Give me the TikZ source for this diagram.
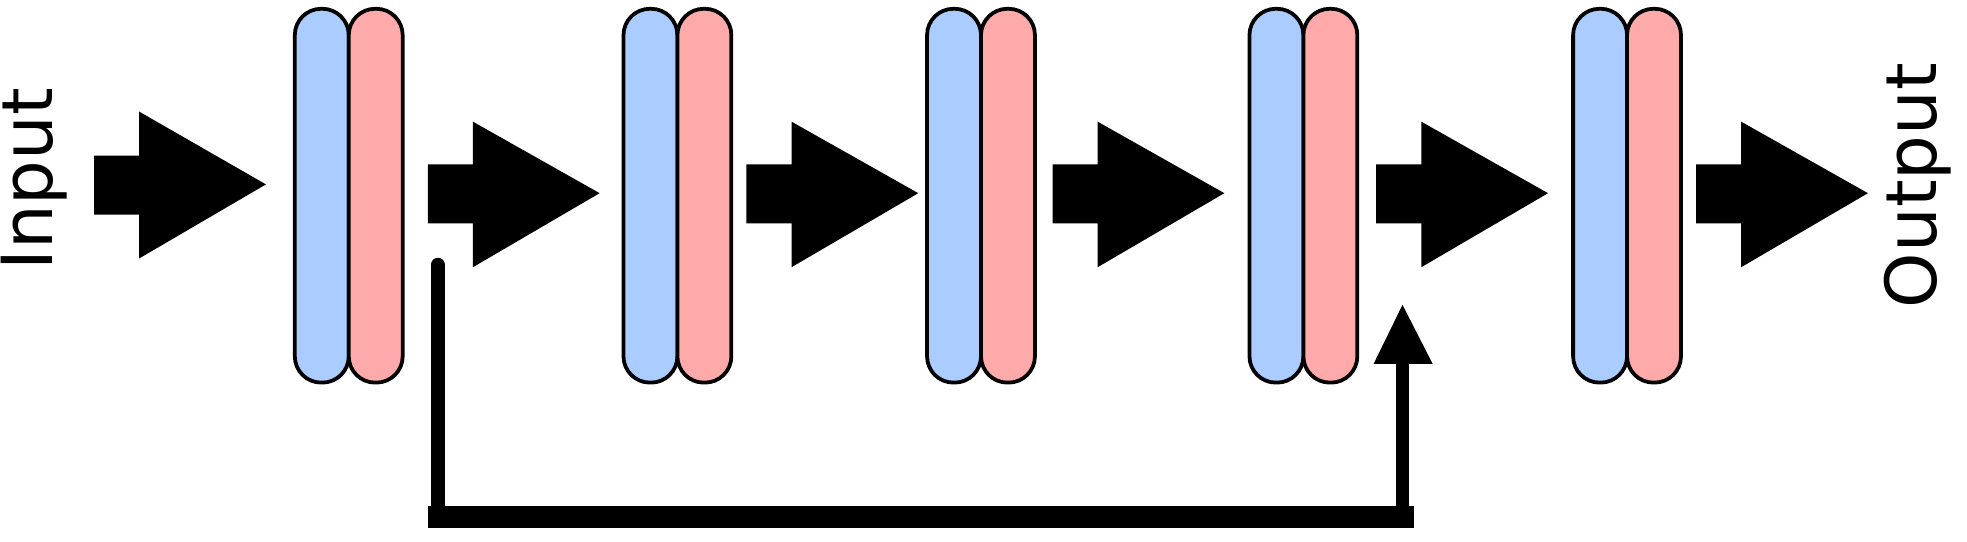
\documentclass[tikz,border=0pt]{standalone}
\usepackage{fontspec}
\setmainfont{DejaVu Sans}
\definecolor{pblue}{HTML}{AACCFF}
\definecolor{pred}{HTML}{FFAAAA}
\begin{document}
\begin{tikzpicture}[x=0.02cm,y=-0.02cm,
  pill/.style={draw=black,line width=3*0.02cm,rounded corners=21*0.02cm},
  lbl/.style={font=\fontsize{32pt}{36pt}\selectfont,inner sep=0}]
\useasboundingbox (0,0) rectangle (1568,432);
\node[lbl,rotate=90] (in) at (27,143) {Input};
\node[lbl,rotate=90] (out) at (1529,148) {Output};
% arrows
\fill (75,124) -- (111,124) -- (111,89) -- (212,147) -- (111,206) -- (111,171) -- (75,171) -- cycle;
\foreach \x in {341,595,839,1097,1352}{
  \fill (\x,131) -- (\x+36,131) -- (\x+36,97) -- (\x+137,154) -- (\x+36,213) -- (\x+36,178) -- (\x,178) -- cycle;
}
% pills
\foreach \x/\n in {235/a,497/b,739/c,996/d,1254/e}{
  \draw[pill,fill=pblue] (\x,7) rectangle (\x+43,305);
  \draw[pill,fill=pred] (\x+43,7) rectangle (\x+86,305);
  \coordinate (p\n) at (\x+43,156);
}
% skip connection
\coordinate (s1) at (349,211);
\coordinate (s2) at (1118,290);
\draw[line width=11*0.02cm,line cap=round] (s1) -- (349,406);
\draw[line width=11*0.02cm] (s2) -- (1118,406);
\fill (341,403) rectangle (1127,421);
\fill (1095,290) -- (1118,243) -- (1142,290) -- cycle;
\end{tikzpicture}
\end{document}
